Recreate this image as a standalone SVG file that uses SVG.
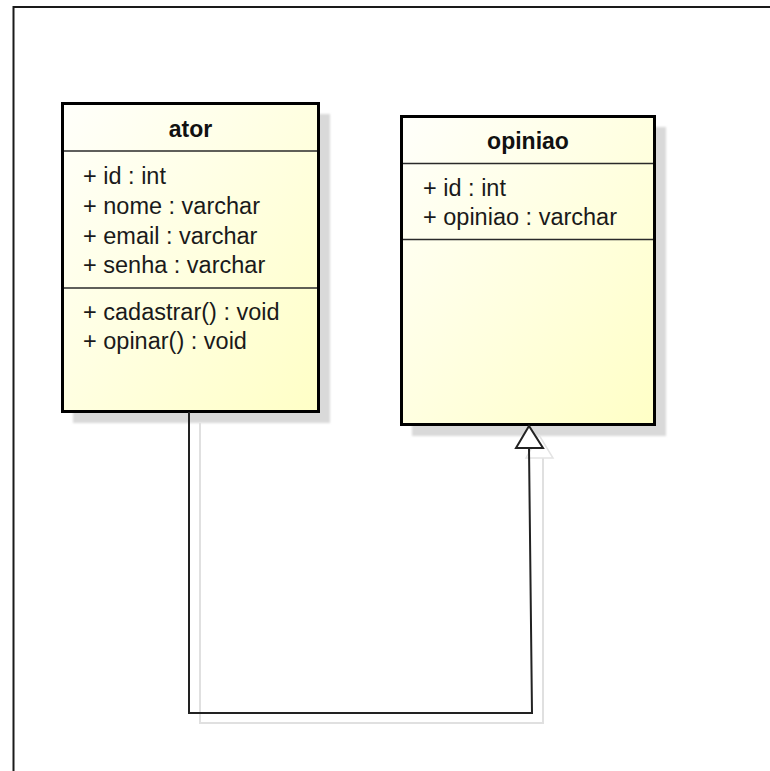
<svg xmlns="http://www.w3.org/2000/svg" width="770" height="771" viewBox="0 0 770 771">
  <style>
    .frame { fill: none; stroke: #1a1a1a; stroke-width: 2; }
    .box { stroke: #000; stroke-width: 3; }
    .shadow { fill: #d9d9d9; filter: url(#soft); }
    .sep { stroke: #2a2a2a; stroke-width: 1.5; }
    .title { font-family: "Liberation Sans", Arial, sans-serif; font-size: 23px; font-weight: bold; fill: #111; text-anchor: middle; }
    .member { font-family: "Liberation Sans", Arial, sans-serif; font-size: 23.5px; fill: #1a1a1a; }
    .edge { fill: none; stroke: #222; stroke-width: 2; }
    .edge-shadow { fill: none; stroke: #e0e0e0; stroke-width: 2; }
  </style>
  <defs>
    <linearGradient id="classFill" x1="0" y1="0" x2="1" y2="1">
      <stop offset="0" stop-color="#fffffb"/>
      <stop offset="1" stop-color="#ffffc6"/>
    </linearGradient>
    <filter id="soft" x="-5%" y="-5%" width="110%" height="110%">
      <feGaussianBlur stdDeviation="1"/>
    </filter>
  </defs>

  <rect width="770" height="771" fill="#fff"/>
  <path class="frame" d="M13.5,771 V7 H770"/>

  <g id="ator">
    <rect class="shadow" x="73" y="114" width="257" height="309"/>
    <rect class="box" x="62.5" y="103.5" width="256" height="308" fill="url(#classFill)"/>
    <line class="sep" x1="64" y1="151" x2="317" y2="151"/>
    <line class="sep" x1="64" y1="288" x2="317" y2="288"/>
    <text class="title" x="190.5" y="137">ator</text>
    <text class="member" x="83" y="184">+ id : int</text>
    <text class="member" x="83" y="214">+ nome : varchar</text>
    <text class="member" x="83" y="243.5">+ email : varchar</text>
    <text class="member" x="83" y="273">+ senha : varchar</text>
    <text class="member" x="83" y="319.5">+ cadastrar() : void</text>
    <text class="member" x="83" y="349">+ opinar() : void</text>
  </g>

  <g id="opiniao">
    <rect class="shadow" x="412" y="127" width="254" height="309"/>
    <rect class="box" x="401.5" y="116.5" width="253" height="308" fill="url(#classFill)"/>
    <line class="sep" x1="403" y1="163.5" x2="653" y2="163.5"/>
    <line class="sep" x1="403" y1="239.5" x2="653" y2="239.5"/>
    <text class="title" x="528" y="149">opiniao</text>
    <text class="member" x="423" y="195.5">+ id : int</text>
    <text class="member" x="423" y="224.5">+ opiniao : varchar</text>
  </g>

  <!-- generalization ator -> opiniao, with its drop shadow -->
  <g id="connectors">
    <path class="edge-shadow" d="M200,423 V723 H543 V458"/>
    <polygon points="539,435 526,458 553,458" fill="none" stroke="#e4e4e4" stroke-width="1.5"/>
    <path class="edge" d="M189,412 V713 H532 L529,448"/>
    <polygon points="529,426 516,448 543,448" fill="#fff" stroke="#222" stroke-width="2"/>
  </g>
</svg>
